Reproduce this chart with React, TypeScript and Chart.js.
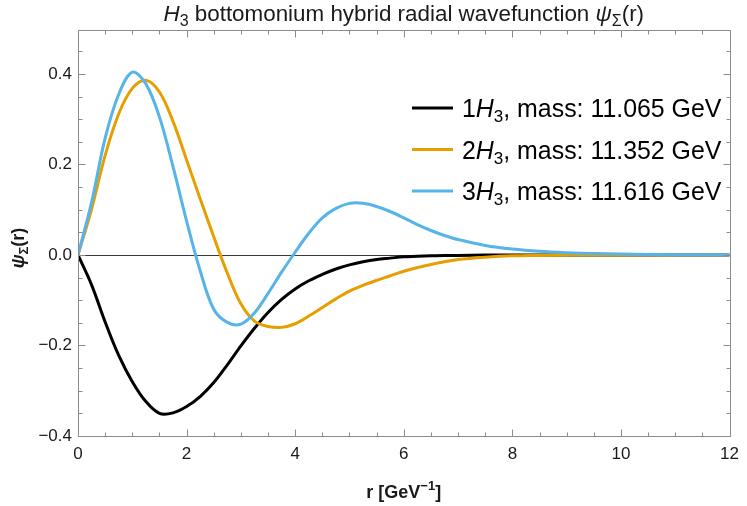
import React, { useEffect, useRef } from 'react';
import { Chart, registerables } from 'chart.js';

Chart.register(...registerables);

// ---------- data ----------
const rValues = [0, 0.25, 0.5, 0.75, 1.0, 1.25, 1.5, 1.75, 2.0, 2.25, 2.5, 2.75, 3.0, 3.25, 3.5, 3.75, 4.0, 4.25, 4.5, 4.75, 5.0, 5.25, 5.5, 5.75, 6.0, 6.25, 6.5, 6.75, 7.0, 7.5, 8.0, 8.5, 9.0, 9.5, 10, 11, 12];

const psi1 = [0, -0.066, -0.148, -0.222, -0.280, -0.324, -0.350, -0.349, -0.335, -0.313, -0.282, -0.243, -0.201, -0.162, -0.127, -0.098, -0.075, -0.057, -0.043, -0.031, -0.022, -0.015, -0.010, -0.007, -0.004, -0.003, -0.002, -0.001, -0.001, 0, 0, 0, 0, 0, 0, 0, 0];
const psi2 = [0, 0.101, 0.220, 0.312, 0.368, 0.386, 0.360, 0.295, 0.210, 0.124, 0.040, -0.040, -0.108, -0.146, -0.158, -0.160, -0.152, -0.135, -0.116, -0.097, -0.080, -0.067, -0.056, -0.046, -0.036, -0.028, -0.021, -0.015, -0.010, -0.005, -0.002, -0.001, 0, 0, 0, 0, 0];
const psi3 = [0, 0.116, 0.258, 0.355, 0.404, 0.378, 0.305, 0.195, 0.075, -0.035, -0.120, -0.149, -0.153, -0.128, -0.085, -0.038, 0.006, 0.048, 0.082, 0.103, 0.114, 0.114, 0.107, 0.096, 0.082, 0.067, 0.054, 0.043, 0.034, 0.021, 0.013, 0.008, 0.005, 0.003, 0.002, 0.0005, 0];

const seriesLabels = ['1', '2', '3'];
const seriesMasses = ['11.065', '11.352', '11.616'];
const seriesColors = ['#000000', '#E69F00', '#56B4E9'];

const xTicks = [0, 2, 4, 6, 8, 10, 12];
const yTicks = [-0.4, -0.2, 0.0, 0.2, 0.4];
const xMin = 0, xMax = 12, yMin = -0.4, yMax = 0.497;
const xMinorStep = 0.5, yMinorStep = 0.05;

const FAM = "'Liberation Sans', Arial, Helvetica, sans-serif";

type Seg = { t: string; it?: boolean; sub?: boolean; sup?: boolean };

function drawRich(ctx: CanvasRenderingContext2D, segs: Seg[], x: number, y: number, size: number, weight: string, align: 'left' | 'center') {
  const fontFor = (s: Seg) => `${s.it ? 'italic ' : ''}${weight} ${(s.sub || s.sup) ? Math.round(size * 0.7) : size}px ${FAM}`;
  let total = 0;
  const widths: number[] = [];
  for (const s of segs) {
    ctx.font = fontFor(s);
    const w = ctx.measureText(s.t).width;
    widths.push(w);
    total += w;
  }
  let cx = align === 'center' ? x - total / 2 : x;
  ctx.textAlign = 'left';
  ctx.textBaseline = 'alphabetic';
  segs.forEach((s, i) => {
    ctx.font = fontFor(s);
    const dy = s.sub ? size * 0.22 : s.sup ? -size * 0.42 : 0;
    ctx.fillText(s.t, cx, y + dy);
    cx += widths[i];
  });
}

function minorValues(min: number, max: number, step: number) {
  const out: number[] = [];
  const n = Math.round((max - min) / step);
  for (let i = 0; i <= n + 2; i++) {
    const v = Math.round((Math.ceil(min / step) + i) * step * 1000) / 1000;
    if (v >= min - 1e-9 && v <= max + 1e-9) out.push(v);
  }
  return out;
}

const framePlugin = {
  id: 'mmaFrame',
  beforeDatasetsDraw(chart: any) {
    const { ctx, chartArea: a, scales } = chart;
    const y0 = Math.round(scales.y.getPixelForValue(0)) + 0.5;
    ctx.save();
    ctx.strokeStyle = '#3a3a3a';
    ctx.lineWidth = 1;
    ctx.beginPath();
    ctx.moveTo(a.left, y0);
    ctx.lineTo(a.right, y0);
    ctx.stroke();
    ctx.restore();
  },
  afterDatasetsDraw(chart: any) {
    const { ctx, chartArea: a, scales } = chart;
    ctx.save();
    ctx.strokeStyle = '#8c8c8c';
    ctx.lineWidth = 1;
    const L = Math.round(a.left) + 0.5, R = Math.round(a.right) + 0.5;
    const T = Math.round(a.top) + 0.5, B = Math.round(a.bottom) + 0.5;
    ctx.beginPath();
    ctx.rect(L, T, R - L, B - T);
    ctx.stroke();
    const major = 7, minor = 4;
    ctx.beginPath();
    const xMajSet = new Set(xTicks.map(v => v.toFixed(3)));
    for (const v of minorValues(xMin, xMax, xMinorStep)) {
      const len = xMajSet.has(v.toFixed(3)) ? major : minor;
      const px = Math.round(scales.x.getPixelForValue(v)) + 0.5;
      ctx.moveTo(px, B); ctx.lineTo(px, B - len);
      ctx.moveTo(px, T); ctx.lineTo(px, T + len);
    }
    const yMajSet = new Set(yTicks.map(v => v.toFixed(3)));
    for (const v of minorValues(yMin, yMax, yMinorStep)) {
      const len = yMajSet.has(v.toFixed(3)) ? major : minor;
      const py = Math.round(scales.y.getPixelForValue(v)) + 0.5;
      ctx.moveTo(L, py); ctx.lineTo(L + len, py);
      ctx.moveTo(R, py); ctx.lineTo(R - len, py);
    }
    ctx.stroke();
    ctx.restore();
  },
  afterDraw(chart: any) {
    const { ctx, chartArea: a } = chart;
    ctx.save();
    ctx.fillStyle = '#1a1a1a';
    const cx = (a.left + a.right) / 2;
    // title
    drawRich(ctx, [
      { t: 'H', it: true }, { t: '3', sub: true },
      { t: ' bottomonium hybrid radial wavefunction ' },
      { t: 'ψ', it: true }, { t: 'Σ', sub: true }, { t: '(r)' },
    ], cx, 21, 22.4, 'normal', 'center');
    // x axis title
    drawRich(ctx, [{ t: 'r [GeV' }, { t: '−1', sup: true }, { t: ']' }], cx, 498, 18, 'bold', 'center');
    // y axis title
    ctx.save();
    ctx.translate(24, (a.top + a.bottom) / 2 + 15);
    ctx.rotate(-Math.PI / 2);
    drawRich(ctx, [{ t: 'ψ', it: true }, { t: 'Σ', sub: true }, { t: '(r)' }], 0, 0, 18, 'bold', 'center');
    ctx.restore();
    // legend
    const baseY = [117, 158.5, 200];
    seriesLabels.forEach((lab, i) => {
      const by = baseY[i];
      ctx.strokeStyle = seriesColors[i];
      ctx.lineWidth = 3;
      ctx.beginPath();
      ctx.moveTo(412, by - 9);
      ctx.lineTo(453, by - 9);
      ctx.stroke();
      ctx.fillStyle = '#000000';
      drawRich(ctx, [
        { t: lab }, { t: 'H', it: true }, { t: '3', sub: true },
        { t: ', mass: ' + seriesMasses[i] + ' GeV' },
      ], 462, by, 24.9, 'normal', 'left');
    });
    ctx.restore();
  },
};

export default function App() {
  const ref = useRef<HTMLCanvasElement | null>(null);
  useEffect(() => {
    document.body.style.margin = '0';
    const canvas = ref.current!;
    const series = [psi1, psi2, psi3];
    const datasets = series.map((s, i) => ({
      label: seriesLabels[i] + 'H3',
      data: rValues.map((r, j) => ({ x: r, y: s[j] })),
      borderColor: seriesColors[i],
      backgroundColor: seriesColors[i],
      borderWidth: 3,
      pointRadius: 0,
      fill: false,
      tension: 0.35,
      order: 2 - i,
    }));
    const tickFont = { family: FAM, size: 17 };
    const chart = new Chart(canvas, {
      type: 'line',
      data: { datasets },
      plugins: [framePlugin],
      options: {
        responsive: false,
        animation: false,
        devicePixelRatio: 1,
        layout: { padding: { top: 30, right: 11, left: 0, bottom: 0 } },
        plugins: { legend: { display: false }, title: { display: false }, tooltip: { enabled: false } },
        scales: {
          x: {
            type: 'linear', min: xMin, max: xMax,
            afterBuildTicks: (s: any) => { s.ticks = xTicks.map(v => ({ value: v })); },
            afterFit: (s: any) => { s.height = 70; },
            grid: { display: false, drawTicks: false },
            border: { display: false },
            ticks: { padding: 8, font: tickFont, color: '#1a1a1a', maxRotation: 0, autoSkip: false, callback: (v: any) => String(v) },
          },
          y: {
            type: 'linear', min: yMin, max: yMax,
            afterBuildTicks: (s: any) => { s.ticks = yTicks.map(v => ({ value: v })); },
            afterFit: (s: any) => { s.width = 78; },
            grid: { display: false, drawTicks: false },
            border: { display: false },
            ticks: { padding: 6, font: tickFont, color: '#1a1a1a', autoSkip: false, callback: (v: any) => (Number(v) === 0 ? '0.0' : Number(v).toFixed(1).replace('-', '−')) },
          },
        },
      },
    });
    return () => chart.destroy();
  }, []);
  return <canvas ref={ref} width={747} height={506} style={{ display: 'block' }} />;
}
